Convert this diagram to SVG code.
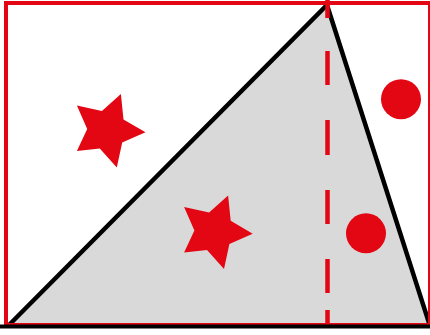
<svg xmlns="http://www.w3.org/2000/svg" xmlns:xlink="http://www.w3.org/1999/xlink" width="430" height="335" viewBox="0 0 430 335">
<style>
.red{fill:#E30613}
.redline{fill:none;stroke:#E30613;stroke-width:4}
.blk{fill:none;stroke:#000;stroke-width:4.5}
</style>
<defs>
<polygon id="star" points="38.6,2.2 15.3,12.4 9.9,37.4 -7.1,18.4 -30,21 -19.7,-1.1 -30,-24.5 -5,-19 14,-36.1 16.6,-10.7"/>
</defs>
<rect width="430" height="335" fill="#fff"/>
<g id="triangle-fill">
<polygon points="9,325 327,5 430,326" fill="#D9D9D9"/>
</g>
<g id="shapes">
<use xlink:href="#star" class="red" x="106.9" y="130.1"/>
<use xlink:href="#star" class="red" x="214.1" y="231.5"/>
<circle class="red" cx="401" cy="99.2" r="20"/>
<circle class="red" cx="366" cy="233.3" r="20"/>
</g>
<g id="connectors">
<polyline class="blk" points="9,325 327,5 430,326" stroke-linejoin="miter"/>
<rect class="redline" x="6" y="3" width="424" height="322"/>
<line x1="327.5" y1="0" x2="327.5" y2="326" stroke="#E30613" stroke-width="4.5" stroke-dasharray="18 33 34 35 35 35 34 35 34 17 16 100"/>
<line x1="0" y1="326.5" x2="430" y2="326.5" stroke="#000" stroke-width="4"/>
</g>
</svg>
